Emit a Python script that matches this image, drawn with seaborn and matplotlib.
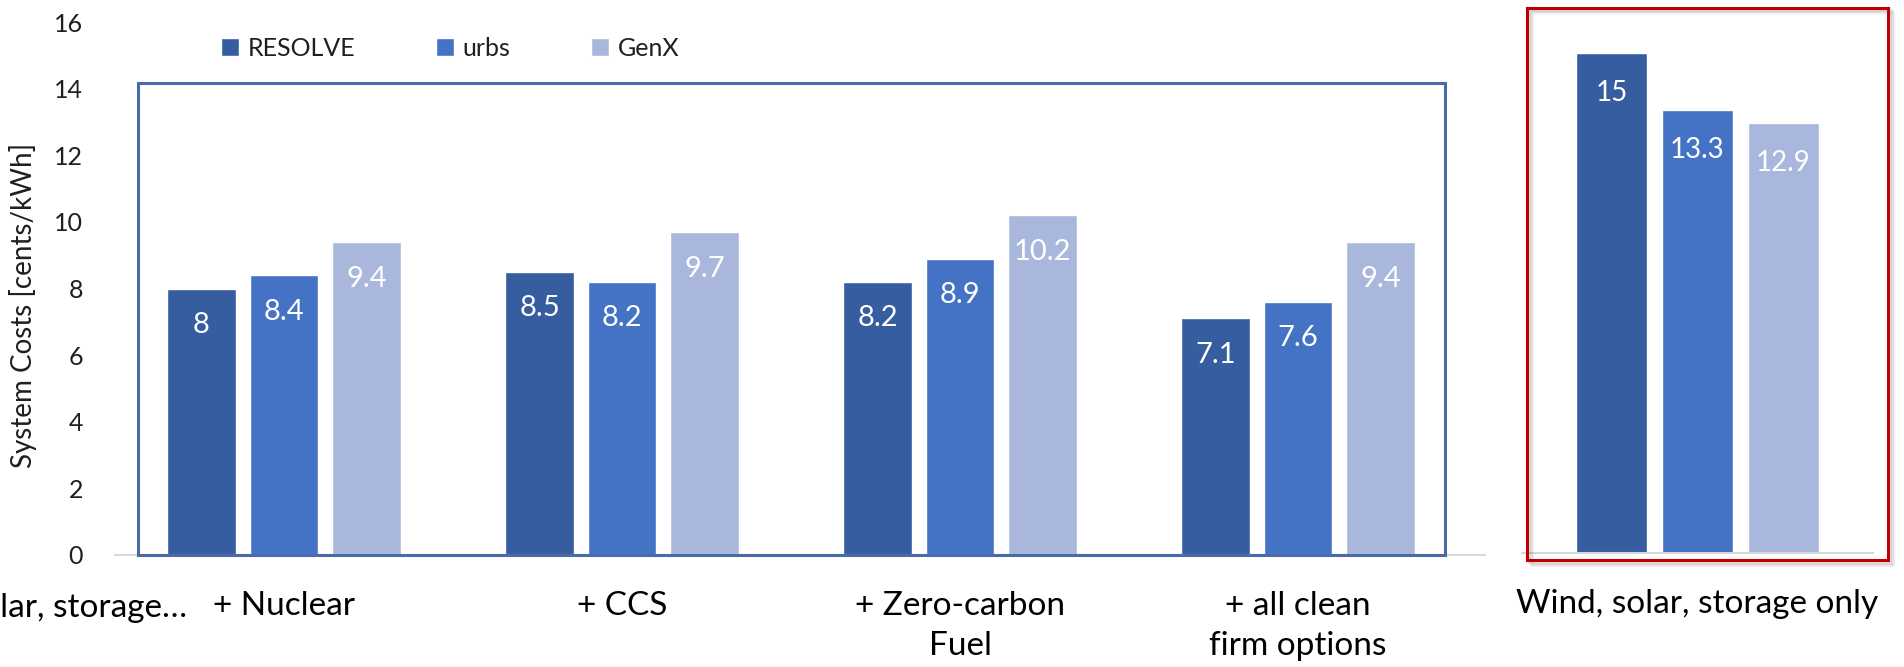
import matplotlib
matplotlib.use("Agg")
import matplotlib.pyplot as plt
from matplotlib.patches import Rectangle
import pandas as pd
import seaborn as sns

# ---- data -------------------------------------------------------------
categories = ["+ Nuclear", "+ CCS", "+ Zero-carbon\nFuel", "+ all clean\nfirm options"]
models = ["RESOLVE", "urbs", "GenX"]
resolve_costs = [8.0, 8.5, 8.2, 7.1]
urbs_costs = [8.4, 8.2, 8.9, 7.6]
genx_costs = [9.4, 9.7, 10.2, 9.4]

vre_category = "Wind, solar, storage only"
vre_costs = [15.0, 13.3, 12.9]  # RESOLVE, urbs, GenX

y_ticks = [0, 2, 4, 6, 8, 10, 12, 14, 16]
y_label = "System Costs [cents/kWh]"
truncated_label = "Wind, solar, storage…"

palette = {"RESOLVE": "#375DA1", "urbs": "#4472C4", "GenX": "#A9B7DC"}

# ---- style ------------------------------------------------------------
sns.set_theme(style="white")
plt.rcParams["font.family"] = ["Lato", "DejaVu Sans"]
TEXT = "#1f1f1f"
CAT_SIZE = 24

W, H = 1904, 667
fig = plt.figure(figsize=(W / 100, H / 100), dpi=100)


def fx(px):
    return px / W


def fy(py):
    return 1 - py / H


firm = pd.DataFrame({
    "scenario": categories * 3,
    "model": [m for m in models for _ in categories],
    "cost": resolve_costs + urbs_costs + genx_costs,
})
vre = pd.DataFrame({"scenario": [vre_category] * 3, "model": models, "cost": vre_costs})


def label_bars(ax, drop, size):
    for container in ax.containers:
        for bar in container:
            h = bar.get_height()
            ax.text(bar.get_x() + bar.get_width() / 2, h - drop, f"{h:g}",
                    ha="center", va="center", color="white", fontsize=size)


def style_axes(ax):
    ax.set_ylim(0, 16)
    ax.set_xlabel("")
    ax.set_ylabel("")
    sns.despine(ax=ax, left=True)
    ax.spines["bottom"].set_color("#D9D9D9")
    ax.spines["bottom"].set_linewidth(1.5)
    ax.tick_params(axis="x", length=0, pad=26, labelsize=CAT_SIZE, labelcolor="black")
    for lbl in ax.get_xticklabels():
        lbl.set_linespacing(1.42)


# ---- main panel: firm resource scenarios -------------------------------
ax = fig.add_axes([fx(115), fy(555), fx(1485) - fx(115), 533 / H])
sns.barplot(data=firm, x="scenario", y="cost", hue="model", order=categories,
            hue_order=models, palette=palette, saturation=1, width=0.732, gap=0.17,
            errorbar=None, ax=ax)
style_axes(ax)
ax.set_xlim(-0.5, 3.553)
ax.set_yticks(y_ticks)
ax.tick_params(axis="y", length=0, pad=23, labelsize=18, labelcolor=TEXT)
label_bars(ax, 1.1, 21)

handles, labels = ax.get_legend_handles_labels()
ax.get_legend().remove()
fig.legend(handles, labels, loc="center left", bbox_to_anchor=(fx(221), fy(48)),
           ncol=3, frameon=False, fontsize=18, handlelength=0.72, handleheight=0.72,
           handletextpad=0.36, columnspacing=3.2, borderpad=0, borderaxespad=0,
           labelcolor=TEXT)

fig.text(fx(23), fy(305), y_label, rotation=90, ha="center", va="center",
         fontsize=20, color=TEXT)
fig.text(fx(187), fy(608), truncated_label, ha="right", va="center",
         fontsize=CAT_SIZE, color="black")

# frame around the firm-resource scenarios
fig.add_artist(Rectangle((fx(138), fy(555)), fx(1445) - fx(138), (555 - 83) / H,
                         transform=fig.transFigure, fill=False,
                         edgecolor="#4A6BA8", linewidth=2.2, zorder=5))

# ---- side panel: wind, solar, storage only -----------------------------
ax2 = fig.add_axes([fx(1522), fy(553), fx(1873) - fx(1522), 533 / H])
sns.barplot(data=vre, x="scenario", y="cost", hue="model", hue_order=models,
            palette=palette, saturation=1, width=0.732, gap=0.17,
            errorbar=None, legend=False, ax=ax2)
style_axes(ax2)
ax2.set_xlim(-0.5, 0.5)
ax2.set_yticks([])
label_bars(ax2, 1.2, 20)

# highlighted frame with a soft drop shadow
box = (fx(1527), fy(560), fx(1888) - fx(1527), (560 - 8) / H)
for k, a in enumerate([0.10, 0.07, 0.04]):
    off = 2 + 1.5 * k
    fig.add_artist(Rectangle((box[0] + off / W, box[1] - off / H), box[2], box[3],
                             transform=fig.transFigure, fill=False,
                             edgecolor="black", alpha=a, linewidth=2.5, zorder=4))
fig.add_artist(Rectangle(box[:2], box[2], box[3], transform=fig.transFigure,
                         fill=False, edgecolor="#C00000", linewidth=2.2, zorder=5))

fig.savefig("out.png", dpi=100, facecolor="white")
